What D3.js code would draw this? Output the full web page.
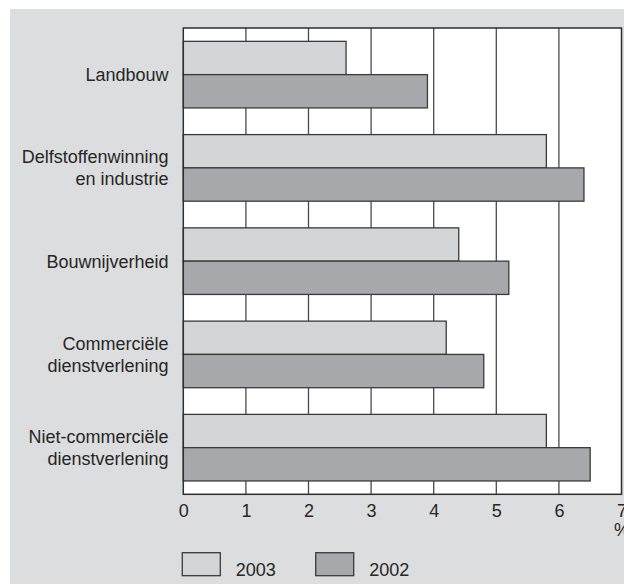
<!DOCTYPE html>
<html>
<head>
<meta charset="utf-8">
<script src="https://cdn.jsdelivr.net/npm/d3@7"></script>
<style>
  html, body { margin: 0; padding: 0; background: #ffffff; }
  svg { display: block; }
  text { font-family: "Liberation Sans", Arial, Helvetica, sans-serif; fill: #262626; }
</style>
</head>
<body>
<svg id="chart" width="624" height="584"></svg>
<script>
// Sectors (each label may span two lines)
const categories = [
  ["Landbouw"],
  ["Delfstoffenwinning", "en industrie"],
  ["Bouwnijverheid"],
  ["Commerciële", "dienstverlening"],
  ["Niet-commerciële", "dienstverlening"]
];
const seriesNames = ["2003", "2002"];
const values2003 = [2.6, 5.8, 4.4, 4.2, 5.8];
const values2002 = [3.9, 6.4, 5.2, 4.8, 6.5];
const xTicks = [0, 1, 2, 3, 4, 5, 6, 7];
const unitLabel = "%";

const colors = { "2003": "#d4d5d7", "2002": "#a7a8ab" };
const strokeCol = "#3a3a3a";
const fontSize = 18;

const svg = d3.select("#chart");

// Light grey panel
svg.append("rect")
  .attr("x", 10).attr("y", 9)
  .attr("width", 614).attr("height", 575)
  .attr("fill", "#dcdddf");

const plot = { left: 183.3, right: 621.5, top: 28, bottom: 494.3 };

const x = d3.scaleLinear().domain([0, 7]).range([plot.left, plot.right]);
const y = d3.scaleBand()
  .domain(d3.range(categories.length))
  .range([plot.top, plot.bottom])
  .paddingInner(0.286)
  .paddingOuter(0.143);
const ySub = d3.scaleBand().domain(seriesNames).range([0, y.bandwidth()]);

// Plot area
svg.append("rect")
  .attr("x", plot.left).attr("y", plot.top)
  .attr("width", plot.right - plot.left).attr("height", plot.bottom - plot.top)
  .attr("fill", "#ffffff");

// Vertical gridlines
svg.append("g")
  .selectAll("line")
  .data(xTicks.slice(1, -1))
  .join("line")
  .attr("x1", d => x(d)).attr("x2", d => x(d))
  .attr("y1", plot.top).attr("y2", plot.bottom)
  .attr("stroke", "#4a4a4a").attr("stroke-width", 1.3);

// Bars
const rows = categories.map((c, i) => ({ i, "2003": values2003[i], "2002": values2002[i] }));
const groups = svg.append("g").selectAll("g")
  .data(rows).join("g")
  .attr("transform", d => `translate(0,${y(d.i)})`);

groups.selectAll("rect")
  .data(d => seriesNames.map(s => ({ s, v: d[s] })))
  .join("rect")
  .attr("x", x(0))
  .attr("y", d => ySub(d.s))
  .attr("width", d => x(d.v) - x(0))
  .attr("height", ySub.bandwidth())
  .attr("fill", d => colors[d.s])
  .attr("stroke", strokeCol)
  .attr("stroke-width", 1.3);

// Frame
svg.append("rect")
  .attr("x", plot.left).attr("y", plot.top)
  .attr("width", plot.right - plot.left).attr("height", plot.bottom - plot.top)
  .attr("fill", "none")
  .attr("stroke", "#2e2e2e").attr("stroke-width", 1.5);

// Category labels
const lineH = 21.7;
svg.append("g").selectAll("text")
  .data(categories)
  .join("text")
  .attr("text-anchor", "end")
  .attr("font-size", fontSize)
  .each(function (lines, i) {
    const cy = y(i) + y.bandwidth() / 2;
    const first = cy + 6.4 - (lines.length - 1) * lineH / 2;
    d3.select(this).selectAll("tspan")
      .data(lines).join("tspan")
      .attr("x", 168.5)
      .attr("y", (d, k) => first + k * lineH)
      .text(d => d);
  });

// X axis labels
const xAxis = d3.axisBottom(x).tickValues(xTicks).tickSize(0).tickPadding(0).tickFormat(d3.format("d"));
const ax = svg.append("g")
  .attr("transform", `translate(0,${plot.bottom})`)
  .call(xAxis);
ax.select(".domain").remove();
ax.selectAll("text")
  .attr("font-size", fontSize)
  .attr("fill", "#262626")
  .attr("font-family", "Liberation Sans, Arial, sans-serif")
  .attr("dy", null)
  .attr("y", 23);

// Unit, set just below the last tick label
svg.append("text")
  .attr("x", 614).attr("y", 536)
  .attr("font-size", fontSize)
  .text(unitLabel);

// Legend
const legend = svg.append("g").selectAll("g")
  .data(seriesNames).join("g")
  .attr("transform", (d, i) => `translate(${182.3 + i * 133.4},552.7)`);
legend.append("rect")
  .attr("width", 38).attr("height", 23)
  .attr("fill", d => colors[d])
  .attr("stroke", strokeCol).attr("stroke-width", 1.3);
legend.append("text")
  .attr("x", 53.5).attr("y", 23)
  .attr("font-size", fontSize)
  .text(d => d);
</script>
</body>
</html>
